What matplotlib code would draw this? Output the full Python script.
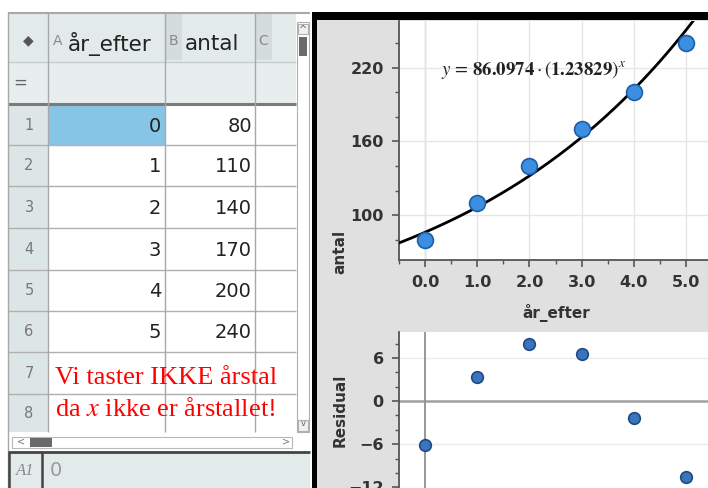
import numpy as np
import matplotlib
matplotlib.use("Agg")
import matplotlib.pyplot as plt
from matplotlib.patches import Rectangle
from matplotlib.ticker import MultipleLocator, FixedLocator

# ---- data ----
ar_efter = [0, 1, 2, 3, 4, 5]
antal = [80, 110, 140, 170, 200, 240]
residual = [-6.1, 3.4, 8.0, 6.5, -2.4, -10.6]
fit_a = 86.0974
fit_b = 1.23829
col_letters = ["A", "B", "C"]
col_names = ["år_efter", "antal"]
row_numbers = [1, 2, 3, 4, 5, 6, 7, 8]
x_ticks = [0, 1, 2, 3, 4, 5]
x_ticklabels = ["0.0", "1.0", "2.0", "3.0", "4.0", "5.0"]
y_ticks = [100, 160, 220]
res_ticks = [-12, -6, 0, 6]

W, H = 708, 488
fig = plt.figure(figsize=(W / 100, H / 100), dpi=100)
fig.patch.set_facecolor("white")

bg = fig.add_axes([0, 0, 1, 1])
bg.set_xlim(0, W)
bg.set_ylim(H, 0)
bg.axis("off")


def rect(x0, y0, x1, y1, fc, ec="none", lw=0, z=1):
    bg.add_patch(Rectangle((x0, y0), x1 - x0, y1 - y0, facecolor=fc,
                           edgecolor=ec, linewidth=lw, zorder=z))


def hline(y, x0, x1, c="#b8b8b8", lw=1.0, z=3):
    bg.plot([x0, x1], [y, y], color=c, lw=lw, zorder=z, solid_capstyle="butt")


def vline(x, y0, y1, c="#b8b8b8", lw=1.0, z=3):
    bg.plot([x, x], [y0, y1], color=c, lw=lw, zorder=z, solid_capstyle="butt")


# ---- spreadsheet ----
TL, TR = 8, 310
cols = [8, 48, 165, 255, 296]
row_edges = [105, 145, 186, 228, 270, 311, 352, 394, 432]
rect(TL, 12, TR, 488, "white", z=0)
rect(TL, 12, 296, 62, "#e3eaea")          # header row
rect(TL, 62, 296, 104, "#e8eeee")         # "=" row
rect(TL, 104, 48, 432, "#dde6e6")         # row-number column
rect(48, 105, 165, 145, "#86c5e6", z=2)   # selected cell A1
rect(165, 14, 182, 60, "#d4dcdc", z=1)    # B header letter shade
rect(255, 14, 272, 60, "#d4dcdc", z=1)    # C header letter shade
hline(12.5, TL, TR, c="#a8a8a8", lw=1.5)
hline(62, TL, 296, c="#c4cccc")
hline(104, TL, 296, c="#7a7a7a", lw=2.2)
for y in row_edges[1:-1]:
    hline(y, TL, 296, c="#b0b0b0")
for x in cols[1:-1]:
    vline(x, 12, 432, c="#a8a8a8")
vline(TL, 12, 488, c="#a8a8a8")

# header text
bg.text(28, 40, "◆", fontsize=10, color="#555555", ha="center", va="center", zorder=5)
bg.text(58, 41, col_letters[0], fontsize=10, color="#8a8a8a", ha="center", va="center", zorder=5)
bg.text(68, 44, col_names[0], fontsize=15.5, color="#222222", ha="left", va="center", zorder=5)
bg.text(173, 41, col_letters[1], fontsize=10, color="#8a8a8a", ha="center", va="center", zorder=5)
bg.text(185, 44, col_names[1], fontsize=15.5, color="#222222", ha="left", va="center", zorder=5)
bg.text(263, 41, col_letters[2], fontsize=10, color="#8a8a8a", ha="center", va="center", zorder=5)
bg.text(20, 83, "=", fontsize=12, color="#666666", ha="center", va="center", zorder=5)

for i, r in enumerate(row_numbers):
    yc = (row_edges[i] + row_edges[i + 1]) / 2
    bg.text(29, yc, str(r), fontsize=10.5, color="#777777", ha="center", va="center", zorder=5)
for i in range(len(ar_efter)):
    yc = (row_edges[i] + row_edges[i + 1]) / 2 + 1
    bg.text(161, yc, str(ar_efter[i]), fontsize=14, color="#222222", ha="right", va="center", zorder=5)
    bg.text(252, yc, str(antal[i]), fontsize=14, color="#222222", ha="right", va="center", zorder=5)

# red note
bg.text(55, 378, "Vi taster IKKE årstal", fontsize=19, color="#ff0000",
        family="Liberation Serif", ha="left", va="center", zorder=6)
bg.text(55, 409, "da $\\mathit{x}$ ikke er årstallet!", fontsize=19, color="#ff0000",
        family="Liberation Serif", ha="left", va="center", zorder=6,
        math_fontfamily="stix")

# vertical scrollbar
rect(297, 22, 309, 432, "white", ec="#b0b0b0", lw=0.8, z=2)
rect(298, 24, 308, 34, "#f0f0f0", ec="#b0b0b0", lw=0.8, z=3)
bg.text(303, 29.5, "^", fontsize=7, color="#666666", ha="center", va="center", zorder=5)
rect(299, 37, 307, 56, "#6a6a6a", z=3)
rect(298, 420, 308, 431, "#f0f0f0", ec="#b0b0b0", lw=0.8, z=3)
bg.text(303, 424, "v", fontsize=6, color="#666666", ha="center", va="center", zorder=5)
# horizontal scrollbar
rect(TL, 432, 296, 450, "white", z=2)
rect(12, 437, 292, 448, "white", ec="#b8b8b8", lw=0.8, z=3)
rect(30, 438, 52, 447, "#6a6a6a", z=4)
bg.text(21, 442, "<", fontsize=7, color="#777777", ha="center", va="center", zorder=5)
bg.text(286, 442, ">", fontsize=7, color="#777777", ha="center", va="center", zorder=5)
# formula bar
rect(TL, 452, 310, 488, "#e3eaea", z=2)
hline(452, TL, 310, c="#444444", lw=2)
vline(42, 452, 488, c="#444444", lw=1.8)
vline(TL + 1, 452, 488, c="#444444", lw=1.8)
bg.text(25, 471, "A1", fontsize=12, color="#888888", family="Liberation Serif",
        style="italic", ha="center", va="center", zorder=5)
bg.text(50, 471, "0", fontsize=14, color="#999999", ha="left", va="center", zorder=5)

# ---- right panel frame ----
rect(317, 20, W, H, "#e0e0e0", z=1)
rect(312, 12, W, 20, "#000000", z=4)
rect(312, 12, 317, H, "#000000", z=4)


def fig_box(x0, y0, x1, y1):
    return [x0 / W, 1 - y1 / H, (x1 - x0) / W, (y1 - y0) / H]


def ptext(x, y, s, **kw):
    return fig.text(x / W, 1 - y / H, s, **kw)


tick_col = "#555555"
lab_col = "#333333"

# ---- upper plot ----
ax = fig.add_axes(fig_box(399, 21, W, 260))
ax.set_facecolor("white")
ax.set_xlim(-0.5, 5.42)
ax.set_ylim(63.5, 258)
xs = np.linspace(-0.5, 5.42, 300)
ax.plot(xs, fit_a * fit_b ** xs, color="black", lw=2.0, zorder=3)
ax.scatter(ar_efter, antal, s=130, color="#3b8ee0", edgecolor="#1d5ea8",
           linewidth=1.2, zorder=4)
ax.xaxis.set_major_locator(FixedLocator(x_ticks))
ax.set_xticklabels(x_ticklabels)
ax.xaxis.set_minor_locator(MultipleLocator(0.5))
ax.yaxis.set_major_locator(FixedLocator(y_ticks))
ax.yaxis.set_minor_locator(MultipleLocator(20))
ax.grid(True, which="major", color="#e6e6e6", lw=1.0, zorder=0)
ax.axvline(0, color="#c8c8c8", lw=1.0, zorder=1)
for s in ["top", "right"]:
    ax.spines[s].set_visible(False)
for s in ["left", "bottom"]:
    ax.spines[s].set_color("#555555")
    ax.spines[s].set_linewidth(1.3)
ax.tick_params(which="major", direction="out", length=5, width=1.2, color=tick_col,
               labelsize=11.5, labelcolor=lab_col, pad=6)
ax.tick_params(which="minor", direction="out", length=3, width=1.0, color=tick_col)
for t in ax.get_xticklabels() + ax.get_yticklabels():
    t.set_fontweight("bold")

eq = ptext(441, 70,
           r"$y\,=\,\mathbf{86.0974}\cdot\left(\mathbf{1.23829}\right)^{x}$",
           fontsize=13.5, math_fontfamily="stix",
           color="#222222", ha="left", va="center", zorder=10)

ptext(556, 313, "år_efter", fontsize=11, fontweight="bold", color=lab_col,
      ha="center", va="center")
ptext(340, 252, "antal", fontsize=11, fontweight="bold", color=lab_col,
      ha="center", va="center", rotation=90)
ptext(340, 410, "Residual", fontsize=11, fontweight="bold", color=lab_col,
      ha="center", va="center", rotation=90)

# ---- residual plot ----
rx = fig.add_axes(fig_box(399, 332, W, H))
rx.set_facecolor("white")
rx.set_xlim(-0.5, 5.42)
rx.set_ylim(-12.1, 9.6)
rx.axhline(0, color="#a0a0a0", lw=1.8, zorder=1)
rx.axvline(0, color="#909090", lw=1.3, zorder=1)
for yv in [6, -6]:
    rx.axhline(yv, color="#ececec", lw=1.0, zorder=0)
rx.scatter(ar_efter, residual, s=70, color="#3a74bd", edgecolor="#1c4a85",
           linewidth=1.2, zorder=4)
rx.yaxis.set_major_locator(FixedLocator(res_ticks))
rx.yaxis.set_minor_locator(MultipleLocator(2))
rx.set_yticklabels(["−12", "−6", "0", "6"])
rx.set_xticks([])
for s in ["top", "right", "bottom"]:
    rx.spines[s].set_visible(False)
rx.spines["left"].set_color("#555555")
rx.spines["left"].set_linewidth(1.3)
rx.tick_params(which="major", direction="out", length=5, width=1.2, color=tick_col,
               labelsize=11.5, labelcolor=lab_col, pad=6)
rx.tick_params(which="minor", direction="out", length=3, width=1.0, color=tick_col)
for t in rx.get_yticklabels():
    t.set_fontweight("bold")

fig.savefig("out.png", dpi=100)
